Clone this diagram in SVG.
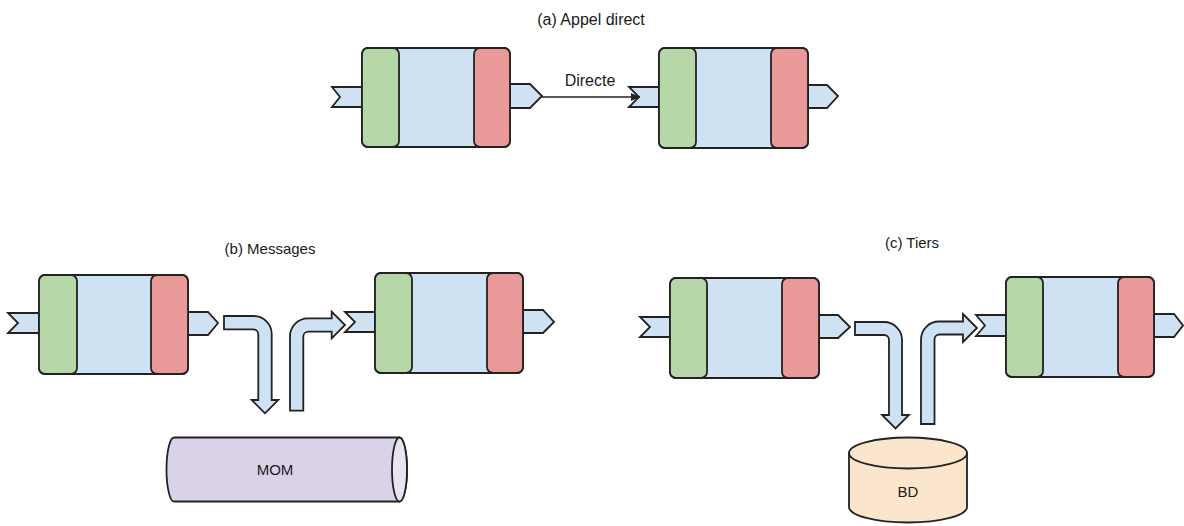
<svg xmlns="http://www.w3.org/2000/svg" width="1184" height="526" viewBox="0 0 1184 526">
<style>
.box{fill:#cfe2f3;stroke:#222;stroke-width:1.8}
.in{fill:#b6d7a8;stroke:#222;stroke-width:1.8}
.out{fill:#ea9999;stroke:#222;stroke-width:1.8}
.port{fill:#cfe2f3;stroke:#222;stroke-width:1.8;stroke-linejoin:miter}
.bend{fill:#cfe2f3;stroke:#222;stroke-width:1.8}
.mom{fill:#d9d2e9;stroke:#222;stroke-width:1.8}
.momend{fill:#e8e4f2;stroke:#222;stroke-width:1.8}
.bd{fill:#fce5cd;stroke:#222;stroke-width:1.8}
.conn{fill:none;stroke:#222;stroke-width:1.5}
text{font-family:"Liberation Sans",Arial,sans-serif;font-size:15px;fill:#1a1a1a}
.t{text-anchor:middle}
.big{font-size:16px}
</style>
<defs>
<marker id="ah" markerWidth="10" markerHeight="10" refX="9" refY="5" orient="auto" markerUnits="userSpaceOnUse">
<path d="M0,1 L9,5 L0,9 Z" fill="#222"/>
</marker>
</defs>

<text class="t big" x="591" y="25">(a) Appel direct</text>
<text class="t" x="270" y="254">(b) Messages</text>
<text class="t" x="912" y="248">(c) Tiers</text>

<g id="a-left" transform="translate(362,48)">
<polygon class="port" points="-30,39 0,39 0,59 -30,59 -22,49"/>
<polygon class="port" points="148,36 168,36 180,48 168,60 148,60"/>
<rect class="box" x="0" y="0" width="148" height="99" rx="6"/>
<rect class="in" x="0" y="0" width="37" height="99" rx="6"/>
<rect class="out" x="112" y="0" width="36" height="99" rx="6"/>
</g>

<g id="a-right" transform="translate(659,48)">
<polygon class="port" points="-30,39 0,39 0,59 -30,59 -20,49"/>
<polygon class="port" points="149,37 168,37 179,48 168,60 149,60"/>
<rect class="box" x="0" y="0" width="149" height="100" rx="6"/>
<rect class="in" x="0" y="0" width="37" height="100" rx="6"/>
<rect class="out" x="112" y="0" width="37" height="100" rx="6"/>
</g>

<g id="b-left" transform="translate(39,275)">
<polygon class="port" points="-31,38 0,38 0,58 -31,58 -21,48"/>
<polygon class="port" points="149,37 169,37 179,48 169,60 149,60"/>
<rect class="box" x="0" y="0" width="149" height="99" rx="6"/>
<rect class="in" x="0" y="0" width="38" height="99" rx="6"/>
<rect class="out" x="112" y="0" width="37" height="99" rx="6"/>
</g>

<g id="b-right" transform="translate(375,273)">
<polygon class="port" points="-30,39 0,39 0,59 -30,59 -20,49"/>
<polygon class="port" points="148,37 168,37 179,49 168,60 148,60"/>
<rect class="box" x="0" y="0" width="148" height="100" rx="6"/>
<rect class="in" x="0" y="0" width="37" height="100" rx="6"/>
<rect class="out" x="112" y="0" width="36" height="100" rx="6"/>
</g>

<g id="c-left" transform="translate(670,278)">
<polygon class="port" points="-30,39 0,39 0,59 -30,59 -20,49"/>
<polygon class="port" points="149,37 168,37 180,49 168,60 149,60"/>
<rect class="box" x="0" y="0" width="149" height="100" rx="6"/>
<rect class="in" x="0" y="0" width="37" height="100" rx="6"/>
<rect class="out" x="112" y="0" width="37" height="100" rx="6"/>
</g>

<g id="c-right" transform="translate(1006,277)">
<polygon class="port" points="-30,38 0,38 0,59 -30,59 -21,48.5"/>
<polygon class="port" points="148,37 168,37 177,48.5 168,60 148,60"/>
<rect class="box" x="0" y="0" width="148" height="100" rx="6"/>
<rect class="in" x="0" y="0" width="37" height="100" rx="6"/>
<rect class="out" x="112" y="0" width="36" height="100" rx="6"/>
</g>

<g id="mom">
<path class="mom" d="M174,437.5 H399.5 A7.5,32 0 0 1 399.5,501.5 H174 A7.5,32 0 0 1 174,437.5 Z"/>
<ellipse class="momend" cx="399.5" cy="469.5" rx="7.5" ry="32"/>
<text class="t" x="275" y="475">MOM</text>
</g>

<g id="bd">
<path class="bd" d="M849,453 V507 A59,15.5 0 0 0 967,507 V453 Z"/>
<ellipse class="bd" cx="908" cy="453" rx="59" ry="15.5"/>
<text class="t" x="908" y="497">BD</text>
</g>

<g id="connectors">
<line class="conn" x1="542" y1="97" x2="640" y2="97" marker-end="url(#ah)"/>
<text class="t big" x="590" y="86">Directe</text>
<path class="bend" d="M224,316 H253.7 A18,18 0 0 1 271.7,334 V400 H278.3 L265,413.3 L251.7,400 H258.3 V334.3 A5,5 0 0 0 253.3,329.3 H224 Z"/>
<path class="bend" d="M290,410.7 V336.3 A18,18 0 0 1 308,318.3 H331.7 V311.7 L345,325 L331.7,338.3 V331.7 H308.3 A5,5 0 0 0 303.3,336.7 V410.7 Z"/>
<path class="bend" d="M855,322 H884 A18,18 0 0 1 902,340 V415 H909 L895.5,428.5 L882,415 H889 V340 A5,5 0 0 0 884,335 H855 Z"/>
<path class="bend" d="M921,424 V339.5 A18,18 0 0 1 939,321.5 H963 V314 L977,328 L963,342 V334.5 H939.5 A5,5 0 0 0 934.5,339.5 V424 Z"/>
</g>
</svg>
